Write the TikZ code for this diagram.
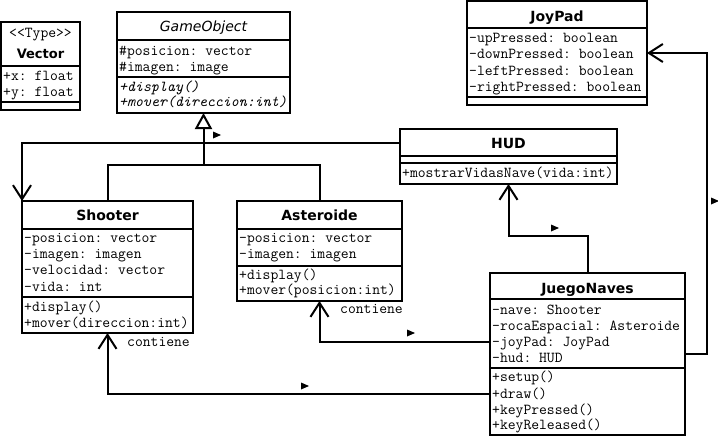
\documentclass[tikz,border=0pt]{standalone}
\usepackage{fontspec}
\setmainfont{DejaVu Sans}
\usetikzlibrary{arrows.meta,calc}
\newcommand\umlcls[7]{%
  \node[clsbox, minimum width={#4pt-#2pt}, minimum height={#5pt-#3pt}, anchor=north west] (#1) at (#2,#3) {};
  \draw[sepline] (#2,#6) -- (#4,#6);
  \draw[sepline] (#2,#7) -- (#4,#7);
}
\newcommand\mk[2]{\fill (#1,#2-3.5) -- ++(8,3.5) -- ++(-8,3.5) -- cycle;}
\begin{document}
\frenchspacing
\begin{tikzpicture}[x=1pt,y=-1pt,
  clsbox/.style={draw, line width=2pt, inner sep=0pt, outer sep=0pt},
  sepline/.style={line width=2pt},
  mono/.style={font=\frenchspacing\ttfamily\fontsize{15.2}{16}\selectfont, inner sep=0pt, anchor=west, text height=8pt, text depth=0pt},
  monoit/.style={mono, font=\frenchspacing\ttfamily\itshape\fontsize{15.2}{16}\selectfont},
  title/.style={font=\bfseries\fontsize{14}{16}\selectfont, inner sep=0pt, text height=10pt, text depth=0pt},
  conn/.style={line width=2pt},
  assoc/.style={conn, -{Straight Barb[length=14pt,width=18pt,line width=2pt]}},
  inherit/.style={conn, -{Triangle[open,length=16pt,width=17pt,line width=2pt]}},
]
\useasboundingbox (0,0) rectangle (718,437);

% Vector
\umlcls{vector}{1}{22}{80}{110}{66}{102}
\node[mono, anchor=center] (vector-s) at (40.5,33) {\char60\char60 Type\char62\char62};
\node[title, font=\bfseries\fontsize{13}{16}\selectfont] (vector-t) at (40.5,53) {Vector};
\node[mono] (vector-a1) at (3,76) {+x: float};
\node[mono] (vector-a2) at (3,92) {+y: float};

% GameObject
\umlcls{gobj}{117}{12}{290}{113}{40}{77}
\node[title, font=\itshape\fontsize{14}{16}\selectfont] (gobj-t) at (203.5,26) {GameObject};
\node[mono] (gobj-a1) at (119,51) {\#posicion: vector};
\node[mono] (gobj-a2) at (119,67) {\#imagen: image};
\node[monoit] (gobj-o1) at (119,87) {+display()};
\node[monoit] (gobj-o2) at (119,102) {+mover(direccion:int)};

% JoyPad
\umlcls{joypad}{467}{1}{647}{105}{28}{97}
\node[title] (joypad-t) at (557,16) {JoyPad};
\node[mono] (joypad-a1) at (469,38) {-upPressed: boolean};
\node[mono] (joypad-a2) at (469,54) {-downPressed: boolean};
\node[mono] (joypad-a3) at (469,71) {-leftPressed: boolean};
\node[mono] (joypad-a4) at (469,87) {-rightPressed: boolean};

% HUD
\umlcls{hud}{400}{129}{617}{184}{156}{163}
\node[title] (hud-t) at (508.5,143) {HUD};
\node[mono] (hud-o1) at (402,173) {+mostrarVidasNave(vida:int)};

% Shooter
\umlcls{shooter}{22}{201}{193}{333}{229}{297}
\node[title] (shooter-t) at (107.5,215) {Shooter};
\node[mono] (shooter-a1) at (24,238) {-posicion: vector};
\node[mono] (shooter-a2) at (24,254) {-imagen: imagen};
\node[mono] (shooter-a3) at (24,270) {-velocidad: vector};
\node[mono] (shooter-a4) at (24,287) {-vida: int};
\node[mono] (shooter-o1) at (24,307) {+display()};
\node[mono] (shooter-o2) at (24,323) {+mover(direccion:int)};

% Asteroide
\umlcls{asteroide}{237}{201}{402}{301}{229}{266}
\node[title] (asteroide-t) at (319.5,215) {Asteroide};
\node[mono] (asteroide-a1) at (239,238) {-posicion: vector};
\node[mono] (asteroide-a2) at (239,254) {-imagen: imagen};
\node[mono] (asteroide-o1) at (239,275) {+display()};
\node[mono] (asteroide-o2) at (239,290) {+mover(posicion:int)};

% JuegoNaves
\umlcls{juego}{490}{273}{685}{435}{299}{368}
\node[title] (juego-t) at (587.5,288) {JuegoNaves};
\node[mono] (juego-a1) at (492,310) {-nave: Shooter};
\node[mono] (juego-a2) at (492,326) {-rocaEspacial: Asteroide};
\node[mono] (juego-a3) at (492,342) {-joyPad: JoyPad};
\node[mono] (juego-a4) at (492,358) {-hud: HUD};
\node[mono] (juego-o1) at (492,377) {+setup()};
\node[mono] (juego-o2) at (492,394) {+draw()};
\node[mono] (juego-o3) at (492,410) {+keyPressed()};
\node[mono] (juego-o4) at (492,425) {+keyReleased()};

% inheritance
\coordinate (inhJ) at (203.5,165);
\draw[inherit] (inhJ) -- (gobj.south);
\draw[conn] (shooter.north) |- (inhJ) -| (asteroide.north);

% associations
\draw[assoc] ($(hud.north west)+(0,14)$) -| (shooter.north west);
\draw[assoc] (juego.north) -- ++(0,-37) -| (hud.south);
\draw[assoc] (juego.east) -- ++(22,0) |- (joypad.east);
\draw[assoc] ($(juego.north west)+(0,69)$) -| (asteroide.south);
\draw[assoc] ($(juego.north west)+(0,121)$) -| (shooter.south);

% labels
\node[mono] (lbl-ast) at (340,309) {contiene};
\node[mono] (lbl-sho) at (127,342) {contiene};

% direction markers
\mk{213}{135}
\mk{551}{228}
\mk{711}{201}
\mk{407}{333}
\mk{301}{386}
\end{tikzpicture}
\end{document}
